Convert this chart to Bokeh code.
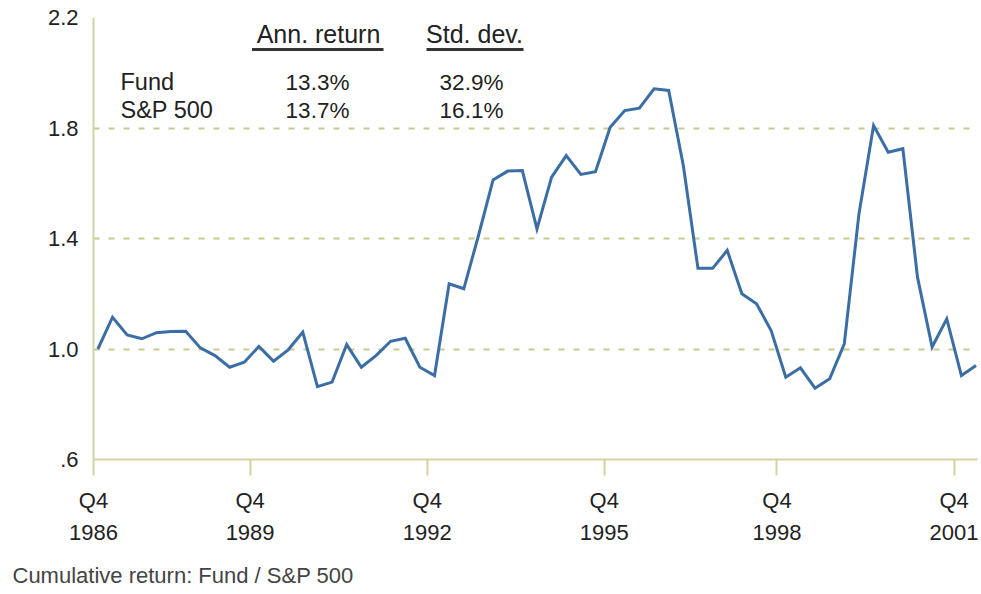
from bokeh.plotting import figure
from bokeh.models import Range1d, FixedTicker, Label, Title
from bokeh.embed import file_html
from bokeh.resources import INLINE

# ---- data (cumulative return: Fund / S&P 500, quarterly) ----
ratio = [1.00, 1.115, 1.051, 1.037, 1.059, 1.063, 1.064, 1.004, 0.976, 0.934,
         0.952, 1.009, 0.956, 0.997, 1.061, 0.864, 0.880, 1.016, 0.934, 0.976,
         1.028, 1.039, 0.934, 0.904, 1.236, 1.218, 1.410, 1.612, 1.644, 1.646,
         1.435, 1.622, 1.700, 1.632, 1.642, 1.803, 1.863, 1.872, 1.942, 1.936,
         1.664, 1.292, 1.292, 1.357, 1.200, 1.164, 1.067, 0.898, 0.932, 0.858,
         0.892, 1.019, 1.489, 1.809, 1.712, 1.725, 1.260, 1.007, 1.109, 0.904,
         0.940]
quarter_idx = list(range(len(ratio)))

tick_pos = [-0.3, 10.4, 22.5, 34.6, 46.4, 58.5]
tick_labels = ["Q4\n1986", "Q4\n1989", "Q4\n1992", "Q4\n1995", "Q4\n1998", "Q4\n2001"]
y_ticks = [0.6, 1.0, 1.4, 1.8, 2.2]
y_tick_labels = [".6", "1.0", "1.4", "1.8", "2.2"]

table_header = ["Ann. return", "Std. dev."]
table_rows = ["Fund", "S&P 500"]
ann_return = ["13.3%", "13.7%"]
std_dev = ["32.9%", "16.1%"]
caption = "Cumulative return: Fund / S&P 500"

# ---- layout ----
W, H = 981, 594
X0, X1 = -0.3, 60.1
Y0, Y1 = 0.6, 2.2
BL, BR, BT, BB = 93, 4, 17, 135
FW = W - BL - BR
FH = H - BT - BB
SX = FW / (X1 - X0)
SY = FH / (Y1 - Y0)

def fx(px):  # picture pixel -> data x
    return X0 + (px - BL) / SX

def fy(py):  # picture pixel -> data y
    return Y0 + (BT + FH - py) / SY

def base(py, fs):  # label anchor so that the text baseline lands at py
    return fy(py - 0.35 * fs)

AXIS = "#d3d3a3"
GRID = "#c9c98e"
LINE = "#3b6ea5"
TXT = "#222222"
FONT = "Liberation Sans"

p = figure(width=W, height=H, output_backend="svg", toolbar_location=None,
           x_range=Range1d(X0, X1), y_range=Range1d(Y0, Y1),
           min_border_left=BL, min_border_right=BR, min_border_top=BT,
           min_border_bottom=BB)
p.outline_line_color = None
p.background_fill_color = "white"
p.border_fill_color = "white"

# x axis
xa = p.xaxis[0]
xa.ticker = FixedTicker(ticks=tick_pos)
xa.major_label_overrides = {t: l for t, l in zip(tick_pos, tick_labels)}
xa.axis_line_color = AXIS
xa.axis_line_width = 2
xa.major_tick_line_color = AXIS
xa.major_tick_line_width = 2
xa.major_tick_out = 16
xa.major_tick_in = 0
xa.minor_tick_line_color = None
xa.major_label_standoff = 12
xa.major_label_text_font = FONT
xa.major_label_text_font_size = "22px"
xa.major_label_text_color = TXT
xa.major_label_text_line_height = 1.3
# invisible spacer label to push the caption down a little
xa.axis_label = " "
xa.axis_label_text_font_size = "2px"
xa.axis_label_standoff = 1

# y axis
ya = p.yaxis[0]
ya.ticker = FixedTicker(ticks=y_ticks)
ya.major_label_overrides = {t: l for t, l in zip(y_ticks, y_tick_labels)}
ya.axis_line_color = AXIS
ya.axis_line_width = 2
ya.major_tick_line_color = None
ya.minor_tick_line_color = None
ya.major_tick_out = 0
ya.major_tick_in = 0
ya.major_label_standoff = 15
ya.major_label_text_font = FONT
ya.major_label_text_font_size = "22px"
ya.major_label_text_color = TXT

p.xgrid.visible = False
p.ygrid.grid_line_color = GRID
p.ygrid.grid_line_width = 2
p.ygrid.grid_line_dash = "6 9"

p.line(quarter_idx, ratio, line_color=LINE, line_width=3, line_join="miter")

# stats table
col_px = [318, 474]
for h, cx, (u0, u1) in zip(table_header, col_px, [(251.5, 383), (426, 523)]):
    p.add_layout(Label(x=fx(cx), y=base(42, 25), text=h, text_align="center",
                       text_baseline="alphabetic", text_font=FONT,
                       text_font_size="25px", text_color=TXT))
    p.segment(x0=[fx(u0)], x1=[fx(u1)], y0=[fy(49)], y1=[fy(49)],
              line_color="#333333", line_width=3)

row_py = [90, 118]
for name, a, s, ry in zip(table_rows, ann_return, std_dev, row_py):
    p.add_layout(Label(x=fx(120), y=base(ry, 23.5), text=name, text_align="left",
                       text_baseline="alphabetic", text_font=FONT,
                       text_font_size="23.5px", text_color=TXT))
    p.add_layout(Label(x=fx(317), y=base(ry, 22.5), text=a, text_align="center",
                       text_baseline="alphabetic", text_font=FONT,
                       text_font_size="22.5px", text_color=TXT))
    p.add_layout(Label(x=fx(471), y=base(ry, 22.5), text=s, text_align="center",
                       text_baseline="alphabetic", text_font=FONT,
                       text_font_size="22.5px", text_color=TXT))

cap = Title(text=caption, align="left", offset=12 - BL, standoff=13,
            text_font=FONT, text_font_size="22px", text_font_style="normal",
            text_color="#444444")
p.add_layout(cap, "below")

open("out.html", "w").write(file_html(p, INLINE))
